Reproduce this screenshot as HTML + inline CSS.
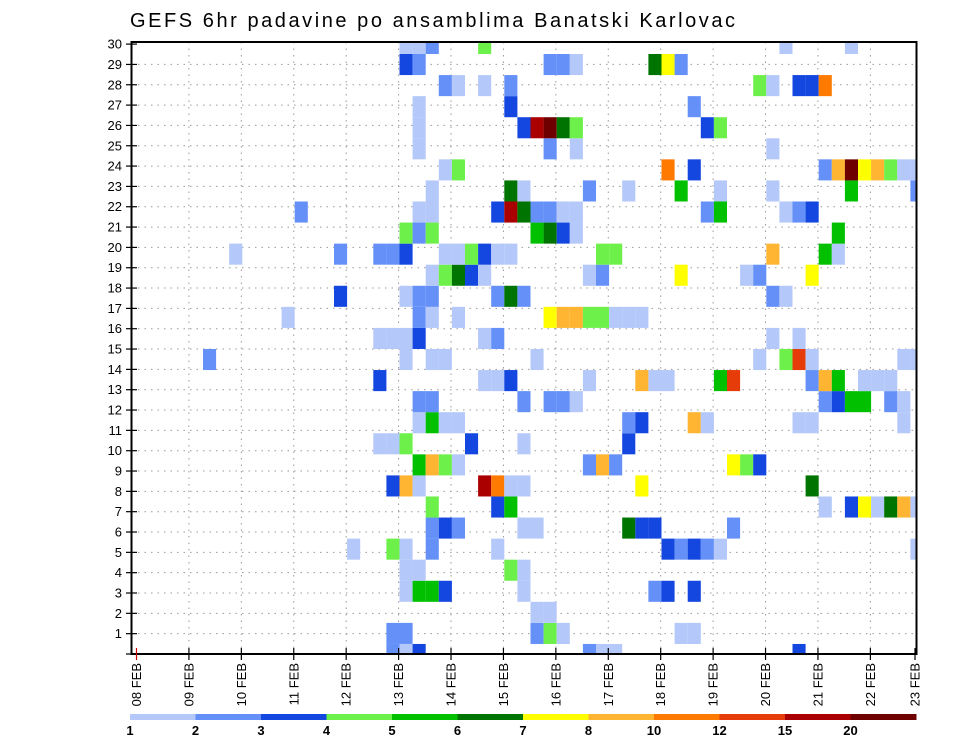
<!DOCTYPE html>
<html><head><meta charset="utf-8"><style>
html,body{margin:0;padding:0;background:#fff;}
svg{display:block;font-family:"Liberation Sans",sans-serif;}
</style></head><body>
<svg id="chart" width="960" height="742" viewBox="0 0 960 742" xmlns="http://www.w3.org/2000/svg">
<text x="130" y="27" font-size="20" textLength="605" lengthAdjust="spacing" fill="#000">GEFS 6hr padavine po ansamblima Banatski Karlovac</text>
<defs><clipPath id="plotclip"><rect x="131.5" y="42" width="785" height="612"/></clipPath></defs>
<g id="grid"></g>
<g id="cells" clip-path="url(#plotclip)"></g>
<rect x="131.5" y="42" width="785" height="612" fill="none" stroke="#000" stroke-width="2"/>
<g id="yaxis"></g>
<g id="xaxis"></g>
<g id="legend"></g>
</svg>
<script>
const dayLabels = ["08 FEB","09 FEB","10 FEB","11 FEB","12 FEB","13 FEB","14 FEB","15 FEB","16 FEB","17 FEB","18 FEB","19 FEB","20 FEB","21 FEB","22 FEB","23 FEB"];
const levelLabels = ["1","2","3","4","5","6","7","8","10","12","15","20"];
const levelValues = [1,2,3,4,5,6,7,8,10,12,15,20];
const levelColors = ["#b4c8fa","#6490f8","#1446e0","#6ef04a","#00c000","#007400","#ffff00","#ffb432","#ff7a00","#e63c0a","#aa0000","#6e0000"];
// member -> [stepIndex(6h), value]
const m30=[[20,1],[21,1],[22,2],[26,4],[49,1],[54,1]];
const m29=[[20,3],[21,2],[31,2],[32,2],[33,1],[39,6],[40,7],[41,2]];
const m28=[[23,2],[24,1],[26,1],[28,2],[47,4],[48,1],[50,3],[51,3],[52,10]];
const m27=[[21,1],[28,3],[42,2]];
const m26=[[21,1],[29,3],[30,15],[31,20],[32,6],[33,4],[43,3],[44,4]];
const m25=[[21,1],[31,2],[33,1],[48,1]];
const m24=[[23,1],[24,4],[40,10],[42,3],[52,2],[53,8],[54,20],[55,7],[56,8],[57,4],[58,1],[59,1]];
const m23=[[22,1],[28,6],[29,1],[34,2],[37,1],[41,5],[44,1],[48,1],[54,5],[59,2]];
const m22=[[12,2],[21,1],[22,1],[27,3],[28,15],[29,6],[30,2],[31,2],[32,1],[33,1],[43,2],[44,5],[49,1],[50,2],[51,3]];
const m21=[[20,4],[21,2],[22,4],[30,5],[31,6],[32,3],[33,1],[53,5]];
const m20=[[7,1],[15,2],[18,2],[19,2],[20,3],[23,1],[24,1],[25,4],[26,3],[27,1],[28,1],[35,4],[36,4],[48,8],[52,5],[53,1]];
const m19=[[22,1],[23,4],[24,6],[25,3],[26,1],[34,1],[35,2],[41,7],[46,1],[47,2],[51,7]];
const m18=[[15,3],[20,1],[21,2],[22,2],[27,2],[28,6],[29,2],[48,2],[49,1]];
const m17=[[11,1],[21,2],[22,1],[24,1],[31,7],[32,8],[33,8],[34,4],[35,4],[36,1],[37,1],[38,1]];
const m16=[[18,1],[19,1],[20,1],[21,3],[26,1],[27,2],[48,1],[50,1]];
const m15=[[5,2],[20,1],[22,1],[23,1],[30,1],[47,1],[49,4],[50,12],[51,1],[58,1],[59,1]];
const m14=[[18,3],[26,1],[27,1],[28,3],[34,1],[38,8],[39,1],[40,1],[44,5],[45,12],[51,2],[52,8],[53,5],[55,1],[56,1],[57,1]];
const m13=[[21,2],[22,2],[29,2],[31,2],[32,2],[33,1],[52,2],[53,3],[54,5],[55,5],[57,2],[58,1]];
const m12=[[21,1],[22,5],[23,1],[24,1],[37,2],[38,3],[42,8],[43,1],[50,1],[51,1],[58,1]];
const m11=[[18,1],[19,1],[20,4],[25,3],[29,1],[37,3]];
const m10=[[21,5],[22,8],[23,4],[24,1],[34,2],[35,8],[36,2],[45,7],[46,4],[47,3]];
const m9=[[19,3],[20,8],[21,1],[26,15],[27,10],[28,1],[29,1],[38,7],[51,6]];
const m8=[[22,4],[27,3],[28,5],[52,1],[54,3],[55,7],[56,1],[57,6],[58,8],[59,1]];
const m7=[[22,2],[23,3],[24,2],[29,1],[30,1],[37,6],[38,3],[39,3],[45,2]];
const m6=[[16,1],[19,4],[20,1],[22,2],[27,1],[40,3],[41,2],[42,3],[43,2],[44,1],[59,1]];
const m5=[[20,1],[21,1],[28,4],[29,1]];
const m4=[[20,1],[21,5],[22,5],[23,3],[29,1],[39,2],[40,3],[42,3]];
const m3=[[30,1],[31,1]];
const m2=[[19,2],[20,2],[30,2],[31,4],[32,1],[41,1],[42,1]];
const m1=[[19,2],[20,1],[21,3],[34,2],[35,1],[36,1],[50,3]];
const members=[m1,m2,m3,m4,m5,m6,m7,m8,m9,m10,m11,m12,m13,m14,m15,m16,m17,m18,m19,m20,m21,m22,m23,m24,m25,m26,m27,m28,m29,m30];

const NS="http://www.w3.org/2000/svg";
const PX0=131.5, PX1=916.5, PY0=42, PY1=654;
function xDay(d){return 136.5+d*52.42;}
function xStep(k){return 137.5+k*13.1;}
const stepW=13.1;
function yRow(r){return 654-r*20.33;}
function yBand(m){return 54+21.07*(29-m);}
const bandH=21.07;
function colorFor(v){let c=levelColors[0];for(let i=0;i<levelValues.length;i++){if(v>=levelValues[i])c=levelColors[i];}return c;}
function mk(tag,attrs,parent){const e=document.createElementNS(NS,tag);for(const a in attrs)e.setAttribute(a,attrs[a]);parent.appendChild(e);return e;}

const grid=document.getElementById('grid');
for(let r=1;r<30;r++){
  const l=mk('line',{x1:PX0,x2:PX1,y1:yRow(r),y2:yRow(r),stroke:'#999','stroke-width':1,'stroke-dasharray':'1.5 5'},grid);
  
  
}
for(let d=1;d<15;d++){
  const l=mk('line',{x1:xDay(d),x2:xDay(d),y1:PY0,y2:PY1,stroke:'#999','stroke-width':1,'stroke-dasharray':'1.5 5'},grid);
  
  
}

const cells=document.getElementById('cells');
members.forEach((arr,i)=>{
  const m=i+1;
  arr.forEach(([k,v])=>{
    const r=mk('rect',{x:xStep(k),y:yBand(m),width:stepW,height:bandH,fill:colorFor(v)},cells);
    
    
  });
});

const ya=document.getElementById('yaxis');
for(let r=0;r<=30;r++){
  const t=mk('line',{x1:126,x2:137,y1:yRow(r),y2:yRow(r),stroke:'#000','stroke-width':1.2},ya);
  
  
  if(r>0){
    const tx=mk('text',{x:122,y:yRow(r)+4.5,'font-size':13,'text-anchor':'end',fill:'#000'},ya);
    tx.textContent=String(r);
    
    
  }
}
const xa=document.getElementById('xaxis');
dayLabels.forEach((lab,d)=>{
  const x=Math.min(xDay(d),915);
  const t=mk('line',{x1:x,x2:x,y1:648,y2:660,stroke:d===0?'#c00':'#000','stroke-width':1.2},xa);
  
  
  const tx=mk('text',{x:0,y:0,'font-size':13,'text-anchor':'end',fill:'#000',transform:'translate('+(x+4.5)+',663) rotate(-90)'},xa);
  tx.textContent=lab;
  
  
});

const lg=document.getElementById('legend');
const segW=(916-130)/levelColors.length;
levelColors.forEach((c,i)=>{
  const r=mk('rect',{x:130+i*segW,y:714,width:segW+0.5,height:6,fill:c},lg);
  
  
  const tx=mk('text',{x:130+i*segW,y:735,'font-size':13,'font-weight':'bold','text-anchor':'middle',fill:'#000'},lg);
  tx.textContent=levelLabels[i];
  
  
});
</script>
</body></html>
